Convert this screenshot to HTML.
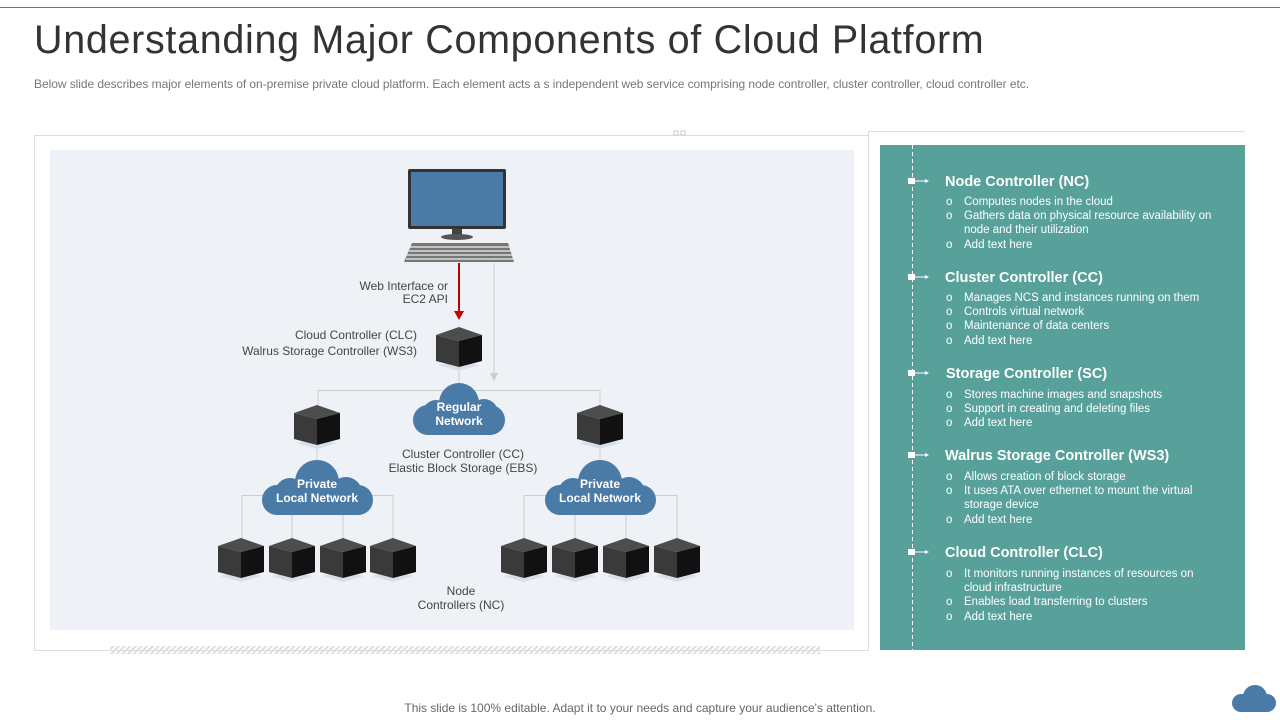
<!DOCTYPE html>
<html><head><meta charset="utf-8"><style>
body{margin:0;width:1280px;height:720px;background:#fff;font-family:"Liberation Sans",sans-serif;overflow:hidden;position:relative}
</style></head><body>
<div style="position:absolute;left:0;top:7px;width:1280px;height:1px;background:#4a7ea8"></div>
<div style="position:absolute;left:34px;top:18px;font-size:39.5px;color:#333;letter-spacing:0.68px">Understanding Major Components of Cloud Platform</div>
<div style="position:absolute;left:34px;top:77px;font-size:12px;color:#777;letter-spacing:-0.05px">Below slide describes major elements of on-premise private cloud platform. Each element acts a s independent web service comprising node controller, cluster controller, cloud controller etc.</div>
<svg width="1280" height="720" style="position:absolute;left:0;top:0" font-family="Liberation Sans, sans-serif">
<defs>
<symbol id="cube" viewBox="0 0 46 44" width="46" height="44">
<polygon points="2,38 23,44 44,38 23,34" fill="#d8dfe8"/>
<polygon points="23,0 0,8 23,14 46,8" fill="#4d4d4d"/>
<polygon points="0,8 23,14 23,40 0,34" fill="#3a3a3a"/>
<polygon points="23,14 46,8 46,34 23,40" fill="#111"/>
</symbol>
<pattern id="hatch" width="4" height="4" patternUnits="userSpaceOnUse" patternTransform="rotate(45)"><rect width="2" height="4" fill="#ddd"/></pattern>
</defs>
<rect x="34.5" y="135.5" width="834" height="515" fill="#fff" stroke="#ddd"/>
<line x1="868" y1="131.5" x2="1245" y2="131.5" stroke="#ddd"/>
<line x1="868.5" y1="131" x2="868.5" y2="650" stroke="#ddd"/>
<rect x="674" y="131" width="4" height="4" fill="none" stroke="#ccc"/><rect x="681" y="131" width="4" height="4" fill="none" stroke="#ccc"/>
<rect x="50" y="150" width="804" height="480" fill="#eef2f7"/>
<rect x="110" y="646" width="710" height="8" fill="url(#hatch)"/>
<rect x="408" y="169" width="98" height="60" rx="2" fill="#333"/>
<rect x="411" y="172" width="92" height="54" fill="#4a7aa6"/>
<rect x="452" y="229" width="10" height="6" fill="#444"/>
<ellipse cx="457" cy="237" rx="16" ry="3" fill="#555"/>
<polygon points="412,243 508,243 514,262 404,262" fill="#777"/>
<g stroke="#eee" stroke-width="1.2"><line x1="410" y1="247" x2="510" y2="247"/><line x1="409" y1="251" x2="511" y2="251"/><line x1="407" y1="255" x2="512" y2="255"/><line x1="406" y1="259" x2="513" y2="259"/></g>
<line x1="459" y1="263" x2="459" y2="312" stroke="#c00000" stroke-width="2"/>
<polygon points="454,311 464,311 459,320" fill="#c00000"/>
<line x1="494" y1="263" x2="494" y2="374" stroke="#ccc"/>
<polygon points="490,373 498,373 494,381" fill="#ccc"/>
<g stroke="#ccc" fill="none">
<line x1="459" y1="367" x2="459" y2="390"/>
<polyline points="318,410 318,390.5 600,390.5 600,410"/>
<line x1="317" y1="445" x2="317" y2="470"/><line x1="600" y1="445" x2="600" y2="470"/>
<polyline points="242,540 242,495.5 393,495.5 393,540"/>
<line x1="292" y1="510" x2="292" y2="540"/><line x1="343" y1="510" x2="343" y2="540"/>
<polyline points="524,540 524,495.5 677,495.5 677,540"/>
<line x1="575" y1="510" x2="575" y2="540"/><line x1="626" y1="510" x2="626" y2="540"/>
</g>
<use href="#cube" x="436" y="327"/>
<use href="#cube" x="294" y="405"/><use href="#cube" x="577" y="405"/>
<use href="#cube" x="218" y="538"/><use href="#cube" x="269" y="538"/><use href="#cube" x="320" y="538"/><use href="#cube" x="370" y="538"/>
<use href="#cube" x="501" y="538"/><use href="#cube" x="552" y="538"/><use href="#cube" x="603" y="538"/><use href="#cube" x="654" y="538"/>
<g fill="#4a7aa6">
<rect x="413" y="405" width="92" height="30" rx="15"/><circle cx="459" cy="403" r="20"/><circle cx="436" cy="413" r="13"/><circle cx="484" cy="413" r="14"/>
<rect x="262" y="485" width="111" height="30" rx="15"/><circle cx="317" cy="482" r="22"/><circle cx="290" cy="493" r="15"/><circle cx="346" cy="493" r="16"/>
<rect x="545" y="485" width="111" height="30" rx="15"/><circle cx="600" cy="482" r="22"/><circle cx="573" cy="493" r="15"/><circle cx="629" cy="493" r="16"/>
</g>
<g fill="#fff" font-weight="bold" font-size="12" text-anchor="middle">
<text x="459" y="411">Regular</text><text x="459" y="425">Network</text>
<text x="317" y="488">Private</text><text x="317" y="502">Local Network</text>
<text x="600" y="488">Private</text><text x="600" y="502">Local Network</text>
</g>
<g fill="#444" font-size="12">
<text x="448" y="290" text-anchor="end">Web Interface or</text><text x="448" y="303" text-anchor="end">EC2 API</text>
<text x="417" y="339" text-anchor="end">Cloud Controller  (CLC)</text><text x="417" y="355" text-anchor="end">Walrus Storage Controller (WS3)</text>
<text x="463" y="458" text-anchor="middle">Cluster Controller (CC)</text><text x="463" y="472" text-anchor="middle">Elastic Block Storage (EBS)</text>
<text x="461" y="595" text-anchor="middle">Node</text><text x="461" y="609" text-anchor="middle">Controllers (NC)</text>
</g>
<rect x="880" y="145" width="365" height="505" fill="#57a19a"/>
<line x1="912.5" y1="145" x2="912.5" y2="650" stroke="#fff" stroke-dasharray="4,3"/>
<g fill="#fff">
<g id="mk"><rect x="908" y="178" width="7" height="6"/><line x1="915" y1="181" x2="926" y2="181" stroke="#fff"/><polygon points="925,179 929,181 925,183"/></g>
<use href="#mk" y="96"/><use href="#mk" y="192"/><use href="#mk" y="274"/><use href="#mk" y="371"/>
<g font-weight="bold" font-size="14.5">
<text x="945" y="186">Node Controller (NC)</text>
<text x="945" y="282">Cluster Controller (CC)</text>
<text x="946" y="378">Storage Controller (SC)</text>
<text x="945" y="460">Walrus  Storage Controller (WS3)</text>
<text x="945" y="557">Cloud Controller (CLC)</text>
</g>
<g font-size="11.5">
<text x="946" y="205">o</text><text x="964" y="205">Computes nodes in the cloud</text>
<text x="946" y="219">o</text><text x="964" y="219">Gathers data on physical resource availability on</text>
<text x="964" y="233">node and their utilization</text>
<text x="946" y="248">o</text><text x="964" y="248">Add text here</text>
<text x="946" y="301">o</text><text x="964" y="301">Manages NCS and instances running on them</text>
<text x="946" y="315">o</text><text x="964" y="315">Controls virtual network</text>
<text x="946" y="329">o</text><text x="964" y="329">Maintenance of data centers</text>
<text x="946" y="344">o</text><text x="964" y="344">Add text here</text>
<text x="946" y="398">o</text><text x="964" y="398">Stores machine images and snapshots</text>
<text x="946" y="412">o</text><text x="964" y="412">Support in creating and deleting files</text>
<text x="946" y="426">o</text><text x="964" y="426">Add text here</text>
<text x="946" y="480">o</text><text x="964" y="480">Allows creation of block storage</text>
<text x="946" y="494">o</text><text x="964" y="494">It uses ATA over ethernet to mount the virtual</text>
<text x="964" y="508">storage device</text>
<text x="946" y="523">o</text><text x="964" y="523">Add text here</text>
<text x="946" y="577">o</text><text x="964" y="577">It monitors running instances of resources on</text>
<text x="964" y="591">cloud infrastructure</text>
<text x="946" y="605">o</text><text x="964" y="605">Enables load transferring to clusters</text>
<text x="946" y="620">o</text><text x="964" y="620">Add text here</text>
</g>
</g>
<text x="640" y="712" text-anchor="middle" font-size="12" fill="#666">This slide is 100% editable. Adapt it to your needs and capture your audience's attention.</text>
<g fill="#4a7aa6"><rect x="1232" y="694" width="44" height="18" rx="9"/><circle cx="1255" cy="697" r="12"/><circle cx="1242" cy="702" r="8"/></g>
</svg>
</body></html>
